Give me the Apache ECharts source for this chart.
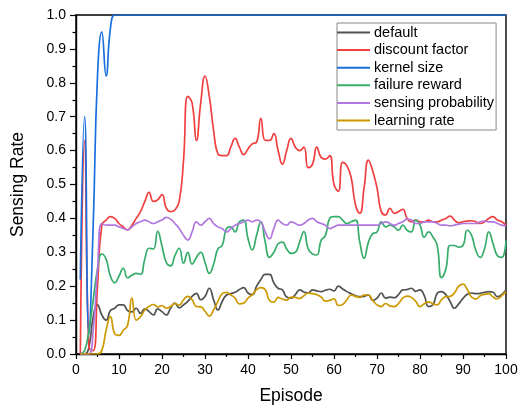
<!DOCTYPE html>
<html>
<head>
<meta charset="utf-8">
<script src="https://cdn.jsdelivr.net/npm/echarts@6/dist/echarts.min.js"></script>
<style>
html,body{margin:0;padding:0;background:#fff;}
#chart{width:518px;height:407px;}
</style>
</head>
<body>
<div id="chart"></div>
<script>
// ---- data ----
const seriesNames = ["default", "discount factor", "kernel size", "failure reward", "sensing probability", "learning rate"];
const seriesColors = ["#515151", "#F14040", "#1A6FDF", "#37AD6B", "#B177DE", "#CC9900"];
const xTicks = [0, 10, 20, 30, 40, 50, 60, 70, 80, 90, 100];
const yTicks = [0.0, 0.1, 0.2, 0.3, 0.4, 0.5, 0.6, 0.7, 0.8, 0.9, 1.0];

const episodes = Array.from({length: 100}, (_, i) => i + 1);

const defaultRate = [
 0,0,0.02,0.11,0.145,0.115,0.1,0.128,0.135,0.145,
 0.145,0.128,0.124,0.135,0.12,0.133,0.125,0.115,0.133,0.125,
 0.115,0.135,0.15,0.136,0.145,0.155,0.17,0.179,0.16,0.17,
 0.194,0.16,0.13,0.155,0.174,0.178,0.182,0.19,0.196,0.18,
 0.175,0.2,0.22,0.235,0.235,0.21,0.194,0.189,0.168,0.165,
 0.175,0.189,0.183,0.18,0.189,0.186,0.184,0.188,0.191,0.186,
 0.2,0.192,0.184,0.178,0.172,0.169,0.17,0.174,0.158,0.165,
 0.18,0.165,0.168,0.166,0.175,0.189,0.19,0.194,0.185,0.189,
 0.172,0.14,0.145,0.179,0.184,0.175,0.155,0.135,0.148,0.164,
 0.176,0.18,0.178,0.179,0.182,0.184,0.182,0.169,0.175,0.189];

const discountFactor = [
 0,0.63,0.02,0.01,0.2,0.38,0.395,0.405,0.40,0.385,
 0.375,0.366,0.38,0.40,0.42,0.45,0.477,0.45,0.455,0.47,
 0.43,0.42,0.425,0.45,0.57,0.76,0.74,0.63,0.74,0.82,
 0.76,0.66,0.59,0.585,0.585,0.61,0.636,0.61,0.588,0.605,
 0.62,0.625,0.695,0.63,0.63,0.65,0.6,0.56,0.6,0.636,
 0.61,0.6,0.61,0.55,0.56,0.61,0.58,0.575,0.585,0.5,
 0.48,0.565,0.555,0.52,0.44,0.415,0.49,0.572,0.54,0.49,
 0.42,0.41,0.43,0.415,0.42,0.427,0.40,0.39,0.395,0.39,
 0.39,0.395,0.39,0.39,0.395,0.40,0.407,0.395,0.387,0.39,
 0.392,0.393,0.39,0.385,0.39,0.40,0.405,0.395,0.39,0.38];

const kernelSize = [
 0.22,0.70,0.06,0.38,0.82,0.95,0.82,0.96,1,1,
 1,1,1,1,1,1,1,1,1,1,
 1,1,1,1,1,1,1,1,1,1,
 1,1,1,1,1,1,1,1,1,1,
 1,1,1,1,1,1,1,1,1,1,
 1,1,1,1,1,1,1,1,1,1,
 1,1,1,1,1,1,1,1,1,1,
 1,1,1,1,1,1,1,1,1,1,
 1,1,1,1,1,1,1,1,1,1,
 1,1,1,1,1,1,1,1,1,1];

const failureReward = [
 0,0.01,0.07,0.16,0.25,0.295,0.28,0.23,0.21,0.23,
 0.253,0.225,0.232,0.238,0.235,0.28,0.312,0.31,0.362,0.318,
 0.27,0.26,0.29,0.312,0.268,0.30,0.265,0.285,0.30,0.27,
 0.238,0.265,0.31,0.32,0.37,0.375,0.36,0.39,0.395,0.34,
 0.307,0.35,0.39,0.33,0.285,0.30,0.325,0.33,0.31,0.297,
 0.30,0.33,0.361,0.31,0.295,0.292,0.335,0.35,0.40,0.405,
 0.405,0.395,0.385,0.39,0.395,0.33,0.282,0.33,0.355,0.36,
 0.39,0.375,0.38,0.375,0.365,0.38,0.365,0.36,0.395,0.38,
 0.345,0.36,0.345,0.32,0.225,0.25,0.32,0.32,0.315,0.32,
 0.365,0.35,0.305,0.285,0.31,0.36,0.325,0.29,0.285,0.335];

const sensingProbability = [
 0,0,0,0.07,0.25,0.385,0.38,0.38,0.38,0.375,
 0.37,0.366,0.375,0.385,0.39,0.395,0.39,0.385,0.39,0.395,
 0.403,0.398,0.385,0.37,0.35,0.336,0.36,0.39,0.38,0.39,
 0.40,0.385,0.375,0.37,0.36,0.37,0.38,0.385,0.39,0.395,
 0.39,0.395,0.39,0.36,0.34,0.37,0.395,0.385,0.38,0.39,
 0.385,0.38,0.385,0.395,0.40,0.39,0.385,0.38,0.37,0.375,
 0.38,0.38,0.38,0.38,0.38,0.38,0.38,0.38,0.38,0.38,
 0.385,0.39,0.385,0.38,0.385,0.39,0.398,0.395,0.385,0.385,
 0.39,0.39,0.39,0.385,0.38,0.38,0.378,0.38,0.383,0.385,
 0.385,0.385,0.385,0.39,0.392,0.39,0.39,0.385,0.38,0.378];

const learningRate = [
 0,0,0,0,0,0.01,0.07,0.11,0.06,0.055,
 0.07,0.085,0.165,0.1,0.11,0.13,0.14,0.146,0.139,0.143,
 0.135,0.14,0.149,0.144,0.16,0.17,0.16,0.14,0.139,0.126,
 0.112,0.13,0.155,0.178,0.182,0.174,0.165,0.148,0.15,0.165,
 0.175,0.19,0.196,0.19,0.158,0.153,0.167,0.162,0.159,0.168,
 0.167,0.164,0.172,0.18,0.178,0.175,0.168,0.156,0.158,0.163,
 0.143,0.146,0.16,0.174,0.17,0.167,0.174,0.174,0.158,0.145,
 0.14,0.149,0.142,0.14,0.149,0.165,0.171,0.167,0.155,0.14,
 0.148,0.154,0.148,0.145,0.16,0.169,0.17,0.18,0.2,0.206,
 0.19,0.168,0.162,0.172,0.176,0.178,0.168,0.163,0.172,0.184];

const allValues = [defaultRate, discountFactor, kernelSize, failureReward, sensingProbability, learningRate];

// ---- chart ----
const FONT = "'Liberation Sans', Arial, sans-serif";
const chart = echarts.init(document.getElementById('chart'), null, {renderer: 'canvas'});

const series = allValues.map((vals, k) => ({
  name: seriesNames[k],
  type: 'line',
  data: episodes.map((e, i) => [e, vals[i]]),
  smooth: 0.5,
  symbol: 'none',
  clip: true,
  lineStyle: {color: seriesColors[k], width: 1.7},
  itemStyle: {color: seriesColors[k]},
  animation: false
}));

chart.setOption({
  animation: false,
  backgroundColor: '#fff',
  grid: {left: 76, right: 12, top: 15, bottom: 53, show: true, borderColor: '#000', borderWidth: 1.4,
         backgroundColor: 'transparent', containLabel: false, outerBoundsMode: 'none'},
  legend: {
    orient: 'vertical', left: 337, top: 23,
    icon: 'rect',
    itemWidth: 33, itemHeight: 2, itemGap: 2.6,
    padding: [2, 2, 2, 0],
    borderColor: '#888', borderWidth: 1, backgroundColor: '#fff',
    textStyle: {fontSize: 14.5, lineHeight: 14, fontFamily: FONT, color: '#000', padding: [0, 0, 0, -1]},
    data: seriesNames
  },
  xAxis: {
    type: 'value', min: xTicks[0], max: xTicks[xTicks.length - 1], interval: 10,
    name: 'Episode', nameLocation: 'middle', nameGap: 33,
    nameTextStyle: {fontSize: 17.5, fontFamily: FONT, color: '#000'},
    axisLine: {onZero: false, lineStyle: {color: '#000', width: 1.4}},
    axisTick: {show: true, inside: false, length: 5, lineStyle: {color: '#000', width: 1.2}},
    minorTick: {show: true, splitNumber: 2, length: 3, lineStyle: {color: '#000', width: 1.2}},
    axisLabel: {fontSize: 14, fontFamily: FONT, color: '#000', margin: 9},
    splitLine: {show: false}
  },
  yAxis: {
    type: 'value', min: yTicks[0], max: yTicks[yTicks.length - 1], interval: 0.1,
    name: 'Sensing Rate', nameLocation: 'middle', nameGap: 49,
    nameTextStyle: {fontSize: 17.5, fontFamily: FONT, color: '#000'},
    axisLine: {show: true, onZero: false, lineStyle: {color: '#000', width: 1.4}},
    axisTick: {show: true, inside: false, length: 6, lineStyle: {color: '#000', width: 1.2}},
    minorTick: {show: true, splitNumber: 2, length: 3.5, lineStyle: {color: '#000', width: 1.2}},
    axisLabel: {fontSize: 14, fontFamily: FONT, color: '#000', margin: 10, formatter: v => v.toFixed(1)},
    splitLine: {show: false}
  },
  series: series
});
</script>
</body>
</html>
